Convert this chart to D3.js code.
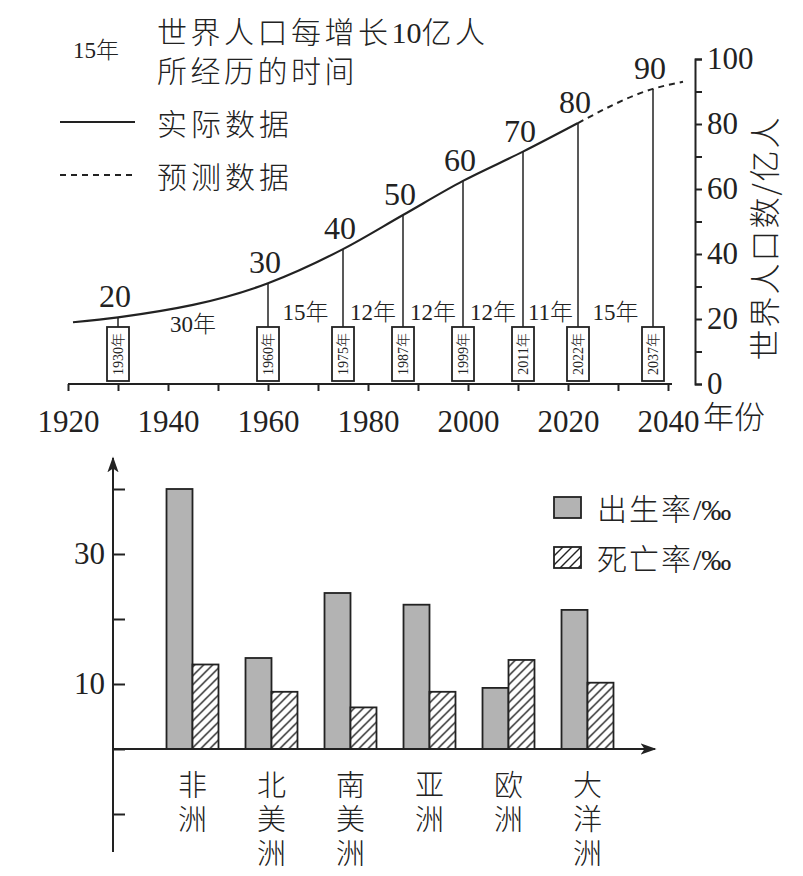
<!doctype html>
<html>
<head>
<meta charset="utf-8">
<script src="https://d3js.org/d3.v7.min.js"></script>
<style>
    body { margin: 0; background: #fff; }
    .ax path, .ax line { stroke: #222; stroke-width: 2; }
</style>
</head>
<body>
<div id="chart"></div>
<script>

    // ---- top chart: world population ----
    var actualYears = [1921, 1930, 1960, 1975, 1987, 1999, 2011, 2022];
    var actualPop   = [19, 20.5, 31, 41.5, 52, 62.5, 71.5, 80.3];
    var forecastYears = [2022, 2037, 2043];
    var forecastPop   = [80.3, 90.8, 93];

    var markYears  = [1930, 1960, 1975, 1987, 1999, 2011, 2022, 2037];
    var markLabels = ["20", "30", "40", "50", "60", "70", "80", "90"];
    var gapLabels  = ["30年", "15年", "12年", "12年", "12年", "11年", "15年"];

    var yearTicks = d3.range(1920, 2041, 10);
    var popTicks  = d3.range(0, 101, 10);

    // ---- bottom chart: birth / death rates ----
    var continents = ["非洲", "北美洲", "南美洲", "亚洲", "欧洲", "大洋洲"];
    var birthRate  = [40, 14, 24, 22.2, 9.4, 21.4];
    var deathRate  = [13, 8.8, 6.4, 8.8, 13.7, 10.2];
    var rateTicks  = [-10, 0, 10, 20, 30, 40];
    var rateLabels = [10, 30];

    var SERIF = "Liberation Serif";
    var CJK = "Noto Sans CJK SC";
    var INK = "#222";

    var svg = d3.select("#chart").append("svg")
        .attr("width", 803)
        .attr("height", 876);

    var defs = svg.append("defs");
    var hatch = defs.append("pattern")
        .attr("id", "hatch")
        .attr("patternUnits", "userSpaceOnUse")
        .attr("width", 9).attr("height", 9);
    hatch.append("rect").attr("width", 9).attr("height", 9).attr("fill", "#fff");
    hatch.append("path")
        .attr("d", "M0,9 L9,0 M-2,2 L2,-2 M7,11 L11,7")
        .attr("stroke", INK).attr("stroke-width", 1.4);

    defs.append("marker")
        .attr("id", "arrow")
        .attr("viewBox", "0 0 10 10")
        .attr("refX", 9).attr("refY", 5)
        .attr("markerWidth", 16).attr("markerHeight", 16)
        .attr("markerUnits", "userSpaceOnUse")
        .attr("orient", "auto")
        .append("path")
        .attr("d", "M0,1.5 L10,5 L0,8.5 L2.5,5 Z")
        .attr("fill", INK);

    // mixed text: digits in serif, CJK in Noto (spacing only between CJK glyphs)
    function mixed(sel, str, spacing) {
        var parts = str.match(/[\u3000-\u9fff]+|[^\u3000-\u9fff]+/g) || [];
        parts.forEach(function(p) {
            var isCjk = /[\u3000-\u9fff]/.test(p);
            var t = sel.append("tspan")
                .attr("font-family", isCjk ? CJK : SERIF)
                .attr("font-weight", isCjk ? 300 : 400)
                .text(p);
            if (isCjk && spacing) t.style("letter-spacing", spacing + "px");
        });
    }

    // ================= TOP =================
    var x = d3.scaleLinear().domain([1920, 2040]).range([68, 668]);
    var y = d3.scaleLinear().domain([0, 100]).range([384, 59]);

    var allYears = actualYears.concat(forecastYears.slice(1));
    var allPop = actualPop.concat(forecastPop.slice(1));
    function popAt(yr) { return allPop[allYears.indexOf(yr)]; }

    // x axis
    var xAxis = svg.append("g")
        .attr("class", "ax")
        .attr("transform", "translate(0,384)")
        .call(d3.axisBottom(x).tickValues(yearTicks).tickSize(7)
            .tickFormat(function(d) { return d % 20 === 0 ? d : ""; }));
    xAxis.attr("font-family", SERIF).attr("font-size", 31);
    xAxis.select(".domain").remove();
    xAxis.append("line")
        .attr("x1", x.range()[0]).attr("x2", x.range()[1] + 4)
        .attr("y1", 0).attr("y2", 0);
    xAxis.selectAll("text")
        .attr("y", 48).attr("dy", 0)
        .attr("fill", INK);

    // y axis (right)
    var yAxis = svg.append("g")
        .attr("class", "ax")
        .attr("transform", "translate(695,0)")
        .call(d3.axisRight(y).tickValues(popTicks).tickSize(7).tickPadding(5)
            .tickFormat(function(d) { return d % 20 === 0 ? d : ""; }));
    yAxis.attr("font-family", SERIF).attr("font-size", 31);
    yAxis.selectAll("text").attr("fill", INK);

    svg.append("text")
        .attr("font-family", CJK).attr("font-weight", 300)
        .attr("font-size", 31).attr("fill", INK)
        .attr("transform", "translate(776,238) rotate(-90)")
        .attr("text-anchor", "middle")
        .style("letter-spacing", "2px")
        .text("世界人口数/亿人");

    svg.append("text")
        .attr("font-family", CJK).attr("font-weight", 300)
        .attr("font-size", 31).attr("fill", INK)
        .attr("x", 703).attr("y", 428)
        .text("年份");

    // curves
    var line = d3.line()
        .x(function(d) { return x(d[0]); })
        .y(function(d) { return y(d[1]); })
        .curve(d3.curveMonotoneX);

    svg.append("path")
        .datum(d3.zip(actualYears, actualPop))
        .attr("d", line)
        .attr("fill", "none").attr("stroke", INK).attr("stroke-width", 2.2);

    svg.append("path")
        .datum(d3.zip(forecastYears, forecastPop))
        .attr("d", line)
        .attr("fill", "none").attr("stroke", INK).attr("stroke-width", 2)
        .attr("stroke-dasharray", "6,5");

    // milestone markers
    var boxTop = 327, boxBottom = 381;
    var marks = svg.selectAll(".mark")
        .data(markYears)
        .enter().append("g")
        .attr("class", "mark");

    marks.append("line")
        .attr("x1", function(d) { return x(d); })
        .attr("x2", function(d) { return x(d); })
        .attr("y1", boxTop)
        .attr("y2", function(d) { return y(popAt(d)); })
        .attr("stroke", INK).attr("stroke-width", 1.5);

    marks.append("rect")
        .attr("x", function(d) { return x(d) - 11; })
        .attr("y", boxTop)
        .attr("width", 22)
        .attr("height", boxBottom - boxTop)
        .attr("fill", "#fff").attr("stroke", INK).attr("stroke-width", 1.8);

    marks.append("text")
        .attr("transform", function(d) {
            return "translate(" + (x(d) + 5) + "," + ((boxTop + boxBottom) / 2) + ") rotate(-90)";
        })
        .attr("text-anchor", "middle")
        .attr("font-size", 14).attr("fill", INK)
        .each(function(d) { mixed(d3.select(this), d + "年"); });

    marks.append("text")
        .attr("x", function(d) { return x(d) - 3; })
        .attr("y", function(d) { return y(popAt(d)) - 10; })
        .attr("text-anchor", "middle")
        .attr("font-family", SERIF).attr("font-size", 32).attr("fill", INK)
        .text(function(d, i) { return markLabels[i]; });

    svg.selectAll(".gap")
        .data(gapLabels)
        .enter().append("text")
        .attr("class", "gap")
        .attr("x", function(d, i) { return (x(markYears[i]) + x(markYears[i + 1])) / 2; })
        .attr("y", function(d, i) { return i === 0 ? 332 : 320; })
        .attr("text-anchor", "middle")
        .attr("font-size", 23).attr("fill", INK)
        .each(function(d) { mixed(d3.select(this), d); });

    // legend / title
    mixed(svg.append("text").attr("x", 73).attr("y", 58)
        .attr("font-size", 23).attr("fill", INK), "15年");
    mixed(svg.append("text").attr("x", 157).attr("y", 43)
        .attr("font-size", 30).attr("fill", INK), "世界人口每增长10亿人", 3.5);
    mixed(svg.append("text").attr("x", 157).attr("y", 82)
        .attr("font-size", 30).attr("fill", INK), "所经历的时间", 3.5);

    svg.append("line").attr("x1", 60).attr("x2", 135).attr("y1", 122).attr("y2", 122)
        .attr("stroke", INK).attr("stroke-width", 2);
    mixed(svg.append("text").attr("x", 157).attr("y", 135)
        .attr("font-size", 30).attr("fill", INK), "实际数据", 4);
    svg.append("line").attr("x1", 60).attr("x2", 135).attr("y1", 175).attr("y2", 175)
        .attr("stroke", INK).attr("stroke-width", 2).attr("stroke-dasharray", "6,5");
    mixed(svg.append("text").attr("x", 157).attr("y", 188)
        .attr("font-size", 30).attr("fill", INK), "预测数据", 4);

    // ================= BOTTOM =================
    var x0 = d3.scaleBand()
        .domain(continents)
        .range([153, 153 + 79 * 6])
        .paddingInner(0.342)
        .paddingOuter(0.171);
    var x1 = d3.scaleBand()
        .domain(["birth", "death"])
        .range([0, x0.bandwidth()]);
    var y2 = d3.scaleLinear().domain([0, 40]).range([749, 489]);

    var rows = continents.map(function(c, i) {
        return { name: c, birth: birthRate[i], death: deathRate[i] };
    });

    var groups = svg.selectAll(".grp")
        .data(rows)
        .enter().append("g")
        .attr("class", "grp")
        .attr("transform", function(d) { return "translate(" + x0(d.name) + ",0)"; });

    groups.selectAll("rect")
        .data(function(d) { return [{k: "birth", v: d.birth}, {k: "death", v: d.death}]; })
        .enter().append("rect")
        .attr("x", function(d) { return x1(d.k); })
        .attr("y", function(d) { return y2(d.v); })
        .attr("width", x1.bandwidth())
        .attr("height", function(d) { return y2(0) - y2(d.v); })
        .attr("fill", function(d) { return d.k === "birth" ? "#b3b3b3" : "url(#hatch)"; })
        .attr("stroke", INK).attr("stroke-width", 1.8);

    // vertical axis
    svg.append("line")
        .attr("x1", 113).attr("x2", 113)
        .attr("y1", 852).attr("y2", 458)
        .attr("stroke", INK).attr("stroke-width", 2)
        .attr("marker-end", "url(#arrow)");
    var y2Axis = svg.append("g")
        .attr("class", "ax")
        .attr("transform", "translate(113,0)")
        .call(d3.axisLeft(y2).tickValues(rateTicks).tickSize(-12).tickPadding(8)
            .tickFormat(function(d) { return rateLabels.indexOf(d) >= 0 ? d : ""; }));
    y2Axis.attr("font-family", SERIF).attr("font-size", 31);
    y2Axis.select(".domain").remove();
    y2Axis.selectAll("text").attr("fill", INK);

    // horizontal axis
    svg.append("line")
        .attr("x1", 113).attr("x2", 655)
        .attr("y1", y2(0)).attr("y2", y2(0))
        .attr("stroke", INK).attr("stroke-width", 2)
        .attr("marker-end", "url(#arrow)");

    // category labels (vertical, one character per line)
    continents.forEach(function(c) {
        c.split("").forEach(function(ch, i) {
            svg.append("text")
                .attr("x", x0(c) + x0.bandwidth() / 2)
                .attr("y", 796 + i * 34)
                .attr("text-anchor", "middle")
                .attr("font-family", CJK).attr("font-weight", 300)
                .attr("font-size", 29).attr("fill", INK)
                .text(ch);
        });
    });

    // legend
    var legendItems = [
        {fill: "#b3b3b3", label: "出生率/‰"},
        {fill: "url(#hatch)", label: "死亡率/‰"}
    ];
    var lg = svg.selectAll(".lg")
        .data(legendItems)
        .enter().append("g")
        .attr("class", "lg")
        .attr("transform", function(d, i) { return "translate(554," + (497 + i * 50) + ")"; });
    lg.append("rect")
        .attr("width", 27).attr("height", 21)
        .attr("fill", function(d) { return d.fill; })
        .attr("stroke", INK).attr("stroke-width", 1.8);
    lg.append("text")
        .attr("x", 43).attr("y", 23)
        .attr("font-size", 30).attr("fill", INK)
        .each(function(d) { mixed(d3.select(this), d.label, 2); });

</script>
</body>
</html>
